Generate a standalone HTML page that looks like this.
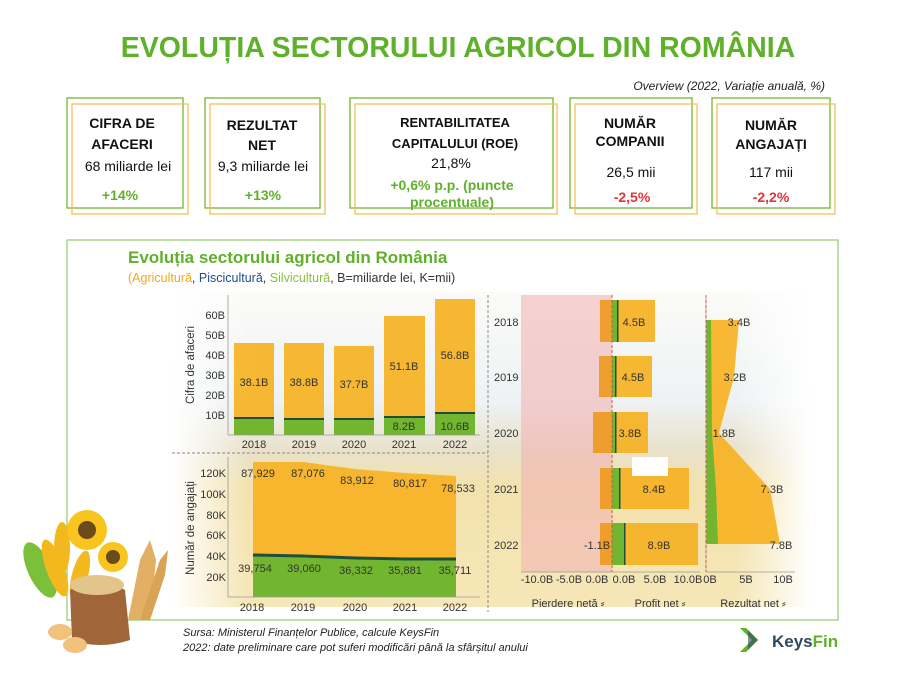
<!DOCTYPE html>
<html><head><meta charset="utf-8"><style>
body{margin:0;background:#fff;}
svg{display:block;font-family:"Liberation Sans",sans-serif;}
</style></head><body>
<svg width="900" height="675" viewBox="0 0 900 675" xmlns="http://www.w3.org/2000/svg">
<defs>
<linearGradient id="bg" x1="0" y1="0" x2="0" y2="1">
<stop offset="0" stop-color="#fbfbf8"/>
<stop offset="0.35" stop-color="#eef2f4"/>
<stop offset="0.5" stop-color="#e9e2cc"/>
<stop offset="0.62" stop-color="#f3e2ad"/>
<stop offset="1" stop-color="#f6e7b8"/>
</linearGradient>
<linearGradient id="fade" x1="0" y1="0" x2="1" y2="0">
<stop offset="0" stop-color="#fff" stop-opacity="1"/>
<stop offset="0.12" stop-color="#fff" stop-opacity="0"/>
<stop offset="0.88" stop-color="#fff" stop-opacity="0"/>
<stop offset="1" stop-color="#fff" stop-opacity="1"/>
</linearGradient>
</defs>
<text x="458" y="57" text-anchor="middle" font-size="28.5" font-weight="bold" fill="#5fb02b">EVOLUȚIA SECTORULUI AGRICOL DIN ROMÂNIA</text>
<text x="825" y="90" text-anchor="end" font-size="12" font-style="italic" fill="#222">Overview (2022, Variație anuală, %)</text>

<g fill="none" stroke-width="1.3">
<rect x="67" y="98" width="116" height="110" stroke="#72b62f"/><rect x="72" y="104" width="116" height="110" stroke="#f3c05a"/>
<rect x="205" y="98" width="115" height="110" stroke="#72b62f"/><rect x="210" y="104" width="115" height="110" stroke="#f3c05a"/>
<rect x="350" y="98" width="203" height="110" stroke="#72b62f"/><rect x="355" y="104" width="202" height="110" stroke="#f3c05a"/>
<rect x="570" y="98" width="122" height="110" stroke="#72b62f"/><rect x="575" y="104" width="122" height="110" stroke="#f3c05a"/>
<rect x="712" y="98" width="118" height="110" stroke="#72b62f"/><rect x="717" y="104" width="118" height="110" stroke="#f3c05a"/>
</g>
<g font-size="14" font-weight="bold" fill="#111" text-anchor="middle">
<text x="122" y="128">CIFRA DE</text><text x="122" y="149">AFACERI</text>
<text x="262" y="130">REZULTAT</text><text x="262" y="150">NET</text>
<text x="455" y="127" font-size="13">RENTABILITATEA</text><text x="455" y="148" font-size="13">CAPITALULUI (ROE)</text>
<text x="630" y="128">NUMĂR</text><text x="630" y="146">COMPANII</text>
<text x="771" y="130">NUMĂR</text><text x="771" y="149">ANGAJAȚI</text>
</g>
<g font-size="14" fill="#111" text-anchor="middle">
<text x="128" y="171">68 miliarde lei</text>
<text x="263" y="171">9,3 miliarde lei</text>
<text x="451" y="168">21,8%</text>
<text x="631" y="177">26,5 mii</text>
<text x="771" y="177">117 mii</text>
</g>
<g font-size="14" font-weight="bold" text-anchor="middle">
<text x="120" y="200" fill="#5fb02b">+14%</text>
<text x="263" y="200" fill="#5fb02b">+13%</text>
<text x="452" y="190" fill="#5fb02b">+0,6% p.p. (puncte</text>
<text x="452" y="207" fill="#5fb02b">procentuale)</text>
<text x="632" y="202" fill="#e0333a">-2,5%</text>
<text x="771" y="202" fill="#e0333a">-2,2%</text>
</g>

<rect x="67" y="240" width="771" height="380" fill="#fff" stroke="#8fcb6a" stroke-width="1.2"/>
<rect x="172" y="292" width="640" height="315" fill="url(#bg)"/>
<rect x="172" y="292" width="640" height="315" fill="url(#fade)"/>
<text x="128" y="263" font-size="17" font-weight="bold" fill="#5fb02b">Evoluția sectorului agricol din România</text>
<text x="128" y="282" font-size="12.5"><tspan fill="#f2a71a">(Agricultură</tspan><tspan fill="#333">, </tspan><tspan fill="#1d4f8a">Piscicultură</tspan><tspan fill="#333">, </tspan><tspan fill="#8bbf3b">Silvicultură</tspan><tspan fill="#333">, B=miliarde lei, K=mii)</tspan></text>

<g fill="#f7b223" opacity="0.92">
<rect x="234" y="343" width="40" height="92"/>
<rect x="284" y="343" width="40" height="92"/>
<rect x="334" y="346" width="40" height="89"/>
<rect x="384" y="316" width="41" height="119"/>
<rect x="435" y="299" width="40" height="136"/>
</g>
<g fill="#72b62f">
<rect x="234" y="419" width="40" height="16"/><rect x="284" y="420" width="40" height="15"/><rect x="334" y="420" width="40" height="15"/><rect x="384" y="418" width="41" height="17"/><rect x="435" y="414" width="40" height="21"/>
</g>
<g fill="#1f4f3a">
<rect x="234" y="417" width="40" height="2"/><rect x="284" y="418" width="40" height="2"/><rect x="334" y="418" width="40" height="2"/><rect x="384" y="416" width="41" height="2"/><rect x="435" y="412" width="40" height="2"/>
</g>
<line x1="228" y1="295" x2="228" y2="435" stroke="#999" stroke-width="0.8"/>
<line x1="228" y1="435" x2="480" y2="435" stroke="#999" stroke-width="0.8"/>
<g font-size="11" fill="#333" text-anchor="end">
<text x="225" y="319">60B</text><text x="225" y="339">50B</text><text x="225" y="359">40B</text><text x="225" y="379">30B</text><text x="225" y="399">20B</text><text x="225" y="419">10B</text>
</g>
<text transform="translate(194,365) rotate(-90)" font-size="11.5" fill="#333" text-anchor="middle">Cifra de afaceri</text>
<g font-size="11" fill="#333" text-anchor="middle">
<text x="254" y="448">2018</text><text x="304" y="448">2019</text><text x="354" y="448">2020</text><text x="404" y="448">2021</text><text x="455" y="448">2022</text>
<text x="254" y="386">38.1B</text><text x="304" y="386">38.8B</text><text x="354" y="388">37.7B</text><text x="404" y="370">51.1B</text><text x="455" y="359">56.8B</text>
<text x="404" y="430">8.2B</text><text x="455" y="430">10.6B</text>
</g>

<line x1="172" y1="453" x2="488" y2="453" stroke="#888" stroke-dasharray="3,2"/>
<line x1="488" y1="295" x2="488" y2="612" stroke="#888" stroke-dasharray="3,2"/>

<polygon points="253,462 303,462 355,469 405,473 456,476 456,597 253,597" fill="#f7b223" opacity="0.92"/>
<polygon points="253,555 303,556 355,558 405,559 456,559 456,597 253,597" fill="#72b62f"/>
<polyline points="253,555 303,556 355,558 405,559 456,559" fill="none" stroke="#1f4f3a" stroke-width="3"/>
<line x1="228" y1="457" x2="228" y2="597" stroke="#999" stroke-width="0.8"/>
<line x1="228" y1="597" x2="480" y2="597" stroke="#999" stroke-width="0.8"/>
<g font-size="11" fill="#333" text-anchor="end">
<text x="226" y="477">120K</text><text x="226" y="498">100K</text><text x="226" y="519">80K</text><text x="226" y="539">60K</text><text x="226" y="560">40K</text><text x="226" y="581">20K</text>
</g>
<text transform="translate(194,528) rotate(-90)" font-size="11.5" fill="#333" text-anchor="middle">Număr de angajați</text>
<g font-size="11" fill="#333" text-anchor="middle">
<text x="252" y="611">2018</text><text x="303" y="611">2019</text><text x="355" y="611">2020</text><text x="405" y="611">2021</text><text x="455" y="611">2022</text>
<text x="258" y="477">87,929</text><text x="308" y="477">87,076</text><text x="357" y="484">83,912</text><text x="410" y="487">80,817</text><text x="458" y="492">78,533</text>
<text x="255" y="572">39,754</text><text x="304" y="572">39,060</text><text x="356" y="574">36,332</text><text x="405" y="574">35,881</text><text x="455" y="574">35,711</text>
</g>

<rect x="521" y="295" width="91" height="277" fill="#f1b4b4" opacity="0.6"/>
<g fill="#f7b223" opacity="0.92">
<rect x="618" y="300" width="37" height="42"/><rect x="616" y="356" width="36" height="41"/><rect x="616" y="412" width="32" height="41"/><rect x="620" y="468" width="69" height="41"/><rect x="625" y="523" width="73" height="42"/>
</g>
<g fill="#ef9a1e" opacity="0.9">
<rect x="600" y="300" width="12" height="42"/><rect x="599" y="356" width="13" height="41"/><rect x="593" y="412" width="19" height="41"/><rect x="600" y="468" width="12" height="41"/><rect x="600" y="523" width="12" height="42"/>
</g>
<g fill="#72b62f">
<rect x="612" y="300" width="6" height="42"/><rect x="612" y="356" width="4" height="41"/><rect x="612" y="412" width="4" height="41"/><rect x="612" y="468" width="8" height="41"/><rect x="612" y="523" width="13" height="42"/>
</g>
<g fill="#1f4f3a">
<rect x="617" y="300" width="1.5" height="42"/><rect x="615" y="356" width="1.5" height="41"/><rect x="615" y="412" width="1.5" height="41"/><rect x="619" y="468" width="1.5" height="41"/><rect x="624" y="523" width="1.5" height="42"/>
</g>
<rect x="632" y="457" width="36" height="19" fill="#fff"/>
<line x1="612" y1="295" x2="612" y2="572" stroke="#d9534f" stroke-dasharray="3,2"/>
<line x1="521" y1="572" x2="700" y2="572" stroke="#999" stroke-width="0.8"/>
<g font-size="11" fill="#333">
<text x="494" y="326">2018</text><text x="494" y="381">2019</text><text x="494" y="437">2020</text><text x="494" y="493">2021</text><text x="494" y="549">2022</text>
</g>
<g font-size="11" fill="#333" text-anchor="middle">
<text x="634" y="326">4.5B</text><text x="633" y="381">4.5B</text><text x="630" y="437">3.8B</text><text x="654" y="493">8.4B</text><text x="659" y="549">8.9B</text>
<text x="597" y="549">-1.1B</text>
<text x="537" y="583">-10.0B</text><text x="569" y="583">-5.0B</text><text x="597" y="583">0.0B</text><text x="624" y="583">0.0B</text><text x="655" y="583">5.0B</text><text x="688" y="583">10.0B</text>
<text x="710" y="583">0B</text><text x="746" y="583">5B</text><text x="783" y="583">10B</text>
<text x="568" y="607">Pierdere netă ⸗</text><text x="660" y="607">Profit net ⸗</text><text x="753" y="607">Rezultat net ⸗</text>
</g>

<polygon points="706,320 739,320 734,377 719,433 770,489 780,544 706,544" fill="#f7b223" opacity="0.92"/>
<polygon points="706,320 711,320 712,433 716,489 718,544 706,544" fill="#72b62f"/>
<line x1="706" y1="295" x2="706" y2="572" stroke="#bbb"/>
<line x1="706" y1="295" x2="706" y2="572" stroke="#d9534f" stroke-dasharray="3,2"/>
<line x1="706" y1="572" x2="795" y2="572" stroke="#999" stroke-width="0.8"/>
<g font-size="11" fill="#333" text-anchor="middle">
<text x="739" y="326">3.4B</text><text x="735" y="381">3.2B</text><text x="724" y="437">1.8B</text><text x="772" y="493">7.3B</text><text x="781" y="549">7.8B</text>
</g>

<g>
<polygon points="128,620 140,560 150,540 156,560 150,620" fill="#e2b064"/>
<polygon points="140,620 160,560 168,550 165,575 150,620" fill="#d9a356"/>
<ellipse cx="40" cy="570" rx="12" ry="30" fill="#7cbf3a" transform="rotate(-25 40 570)"/>
<ellipse cx="55" cy="568" rx="9" ry="30" fill="#f3b81e" transform="rotate(-20 55 568)"/>
<ellipse cx="62" cy="548" rx="8" ry="26" fill="#f3b81e"/>
<ellipse cx="80" cy="575" rx="8" ry="25" fill="#f3b81e" transform="rotate(15 80 575)"/>
<circle cx="87" cy="530" r="20" fill="#f7c51e"/><circle cx="87" cy="530" r="9" fill="#6b4a1b"/>
<circle cx="113" cy="557" r="15" fill="#f7c51e"/><circle cx="113" cy="557" r="7" fill="#6b4a1b"/>
<path d="M70,590 Q95,570 125,590 L130,640 Q100,650 72,640 Z" fill="#a0663a"/>
<ellipse cx="97" cy="585" rx="27" ry="10" fill="#e2c58a"/>
<ellipse cx="60" cy="632" rx="12" ry="8" fill="#f0c27b"/>
<ellipse cx="75" cy="645" rx="12" ry="8" fill="#f0c27b"/>
</g>

<text x="183" y="636" font-size="11" font-style="italic" fill="#222">Sursa: Ministerul Finanțelor Publice, calcule KeysFin</text>
<text x="183" y="651" font-size="11" font-style="italic" fill="#222">2022: date preliminare care pot suferi modificări până la sfârșitul anului</text>
<polygon points="740,628 752,640 740,652 746,652 758,640 746,628" fill="#5fb02b"/>
<polygon points="748,630 758,640 748,650" fill="#2f4a5c" opacity="0.6"/>
<text x="772" y="647" font-size="17" font-weight="bold" fill="#2f4a5c">Keys<tspan fill="#5fb02b">Fin</tspan></text>
</svg>
</body></html>
